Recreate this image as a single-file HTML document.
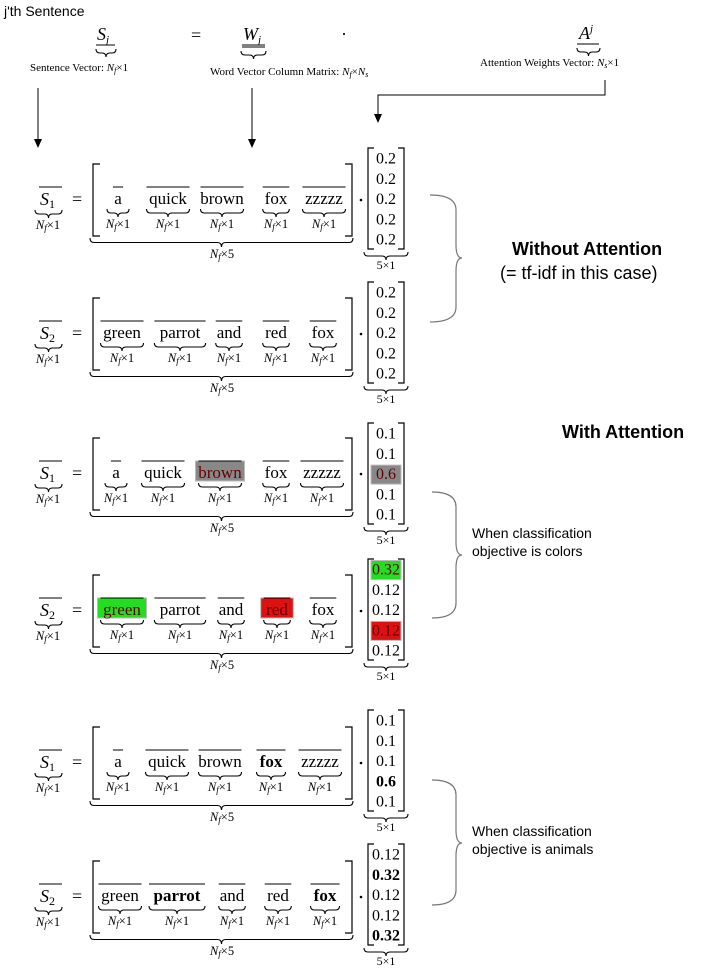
<!DOCTYPE html>
<html><head><meta charset="utf-8"><style>
body{margin:0;background:#fff;width:720px;height:973px;overflow:hidden}
svg{display:block}
.s{font-family:"Liberation Serif",serif}
.a{font-family:"Liberation Sans",sans-serif}
</style></head><body>
<svg id="g" width="720" height="973" xmlns="http://www.w3.org/2000/svg">
<text class="a" x="4" y="16" font-size="14">j'th Sentence</text>
<g class="s" font-size="18">
<text x="97" y="40" font-style="italic">S<tspan font-size="11" dy="3">j</tspan></text>
<line x1="96" y1="45" x2="115" y2="45" stroke="#000"/>
<text x="191" y="41">=</text>
<text x="243" y="40" font-style="italic">W<tspan font-size="11" dy="3">j</tspan></text>
<line x1="242" y1="45" x2="265" y2="45" stroke="#000"/><line x1="242" y1="47" x2="265" y2="47" stroke="#000"/>
<text x="341" y="40">·</text>
<text x="579" y="39" font-style="italic">A<tspan font-size="11" dy="-7">j</tspan></text>
<line x1="577" y1="44" x2="599" y2="44" stroke="#000"/>
</g>
<g class="s" font-size="11">
<text x="30" y="71">Sentence Vector: <tspan font-style="italic">N<tspan font-size="8" dy="2">f</tspan></tspan><tspan dy="-2">×1</tspan></text>
<text x="210" y="75">Word Vector Column Matrix: <tspan font-style="italic">N<tspan font-size="8" dy="2">f</tspan></tspan><tspan dy="-2">×</tspan><tspan font-style="italic">N<tspan font-size="8" dy="2">s</tspan></tspan></text>
<text x="480" y="66">Attention Weights Vector: <tspan font-style="italic">N<tspan font-size="8" dy="2">s</tspan></tspan><tspan dy="-2">×1</tspan></text>
</g>
<g stroke="#000" stroke-width="1" fill="none">
<line x1="38" y1="88" x2="38" y2="140"/><line x1="252" y1="88" x2="252" y2="140"/>
<polyline points="605,80 605,95 378,95 378,114"/>
</g>
<g fill="#000">
<polygon points="34,139 42,139 38,148"/><polygon points="248,139 256,139 252,148"/><polygon points="374,114 382,114 378,123"/>
</g>
<g class="a" font-size="18">
<text x="512" y="255" font-weight="bold">Without Attention</text>
<text x="500" y="279">(= tf-idf in this case)</text>
<text x="562" y="438" font-weight="bold">With Attention</text>
</g>
<g class="a" font-size="14">
<text x="472" y="538">When classification</text><text x="472" y="556">objective is colors</text>
<text x="472" y="836">When classification</text><text x="472" y="854">objective is animals</text>
</g>
<g stroke="#777" fill="none" stroke-width="1.2">
<path d="M430,195 Q456,195 456,210 V245 Q456,258 462,258 Q456,258 456,271 V307 Q456,322 430,322"/>
<path d="M432,492 Q456,492 456,507 V542 Q456,555 462,555 Q456,555 456,568 V603 Q456,618 432,618"/>
<path d="M432,780 Q456,780 456,795 V830 Q456,843 462,843 Q456,843 456,856 V890 Q456,905 432,905"/>
</g>
</svg>
<script>
const svg=document.getElementById('g');const NS='http://www.w3.org/2000/svg';
function el(t,a,p){const e=document.createElementNS(NS,t);for(const k in a)e.setAttribute(k,a[k]);(p||svg).appendChild(e);return e}
function brace(x1,x2,y,h,c){const m=(x1+x2)/2,r=Math.min(4,(x2-x1)/4);el('path',{d:`M${x1},${y} q0,${h/2} ${r},${h/2} H${m-r} q${r},0 ${r},${h/2} q0,-${h/2} ${r},-${h/2} H${x2-r} q${r},0 ${r},-${h/2}`,fill:'none',stroke:c||'#000','stroke-width':1.1})}
brace(96,116,49,8);brace(241,266,51,8);brace(577,600,48,8);
function nf(x,y,s,n){const t=el('text',{x,y,'text-anchor':'middle','font-size':12.5,class:'s'});
 t.innerHTML=`<tspan font-style="italic">N</tspan><tspan font-style="italic" font-size="9" dy="2">f</tspan><tspan dy="-2">×${n}</tspan>`}
const rows=[
{y:199,vt:148,w:[['a',118],['quick',168],['brown',222],['fox',276],['zzzzz',324]],v:['0.2','0.2','0.2','0.2','0.2'],S:1},
{y:333,vt:282,w:[['green',122],['parrot',180],['and',229],['red',276],['fox',323]],v:['0.2','0.2','0.2','0.2','0.2'],S:2},
{y:473,vt:423,w:[['a',116],['quick',163],['brown',220],['fox',276],['zzzzz',322]],v:['0.1','0.1','0.6','0.1','0.1'],S:1,hw:{2:'#888'},hv:{2:'#888'}},
{y:610,vt:559,w:[['green',122],['parrot',180],['and',231],['red',277],['fox',323]],v:['0.32','0.12','0.12','0.12','0.12'],S:2,hw:{0:'#22dd22',3:'#dd1111'},hv:{0:'#22dd22',3:'#dd1111'}},
{y:762,vt:710,w:[['a',118],['quick',167],['brown',220],['fox',271],['zzzzz',320]],v:['0.1','0.1','0.1','0.6','0.1'],S:1,bw:[3],bv:[3]},
{y:896,vt:844,w:[['green',120],['parrot',177],['and',232],['red',278],['fox',325]],v:['0.12','0.32','0.12','0.12','0.32'],S:2,bw:[1,4],bv:[1,4]}];
for(const r of rows){const y=r.y;
 const s=el('text',{x:40,y:y+6,'font-size':18,class:'s','font-style':'italic'});s.innerHTML=`S<tspan font-size="12" font-style="normal" dy="3">${r.S}</tspan>`;
 el('line',{x1:39,y1:y-12,x2:62,y2:y-12,stroke:'#000'});brace(35,62,y+11,8);nf(48,y+30,0,1);
 el('text',{x:72,y:y+6,'font-size':18,class:'s'}).textContent='=';
 el('path',{d:`M100,${y-35} H93 V${y+37} H100 M345,${y-35} H352 V${y+37} H345`,fill:'none',stroke:'#000','stroke-width':1.2});
 r.w.forEach(([t,cx],i)=>{const bold=(r.bw||[]).includes(i);const w=t.length*(bold?9:8.2)+2;
  if(r.hw&&r.hw[i])el('rect',{x:cx-w/2-3,y:y-12,width:w+6,height:20,fill:r.hw[i],stroke:'#bbb'});
  const tt=el('text',{x:cx,y:y+5,'font-size':17,class:'s','text-anchor':'middle','font-weight':bold?'bold':'normal',fill:(r.hw&&r.hw[i])?'#600':'#000'});tt.textContent=t;
  el('line',{x1:cx-w/2,y1:y-12,x2:cx+w/2,y2:y-12,stroke:'#000'});
  brace(cx-Math.max(w,22)/2,cx+Math.max(w,22)/2,y+10,8);nf(cx,y+29,0,1)});
 brace(90,353,y+39,9);nf(222,y+59,0,5);
 el('circle',{cx:361,cy:y+1,r:1.3,fill:'#000'});
 const vt=r.vt,vb=vt+101;
 el('path',{d:`M374,${vt} H368 V${vb} H374 M398,${vt} H404 V${vb} H398`,fill:'none',stroke:'#000','stroke-width':1.2});
 r.v.forEach((t,i)=>{const yy=vt+15.5+20.3*i;const bold=(r.bv||[]).includes(i);
  if(r.hv&&r.hv[i])el('rect',{x:371,y:yy-14,width:30,height:19,fill:r.hv[i],stroke:'#bbb'});
  const tt=el('text',{x:386,y:yy,'font-size':16,class:'s','text-anchor':'middle','font-weight':bold?'bold':'normal',fill:(r.hv&&r.hv[i])?'#600':'#000'});tt.textContent=t});
 brace(364,408,vb+3,8);el('text',{x:386,y:vb+20,'font-size':12,class:'s','text-anchor':'middle'}).textContent='5×1';
}
</script>
</body></html>
